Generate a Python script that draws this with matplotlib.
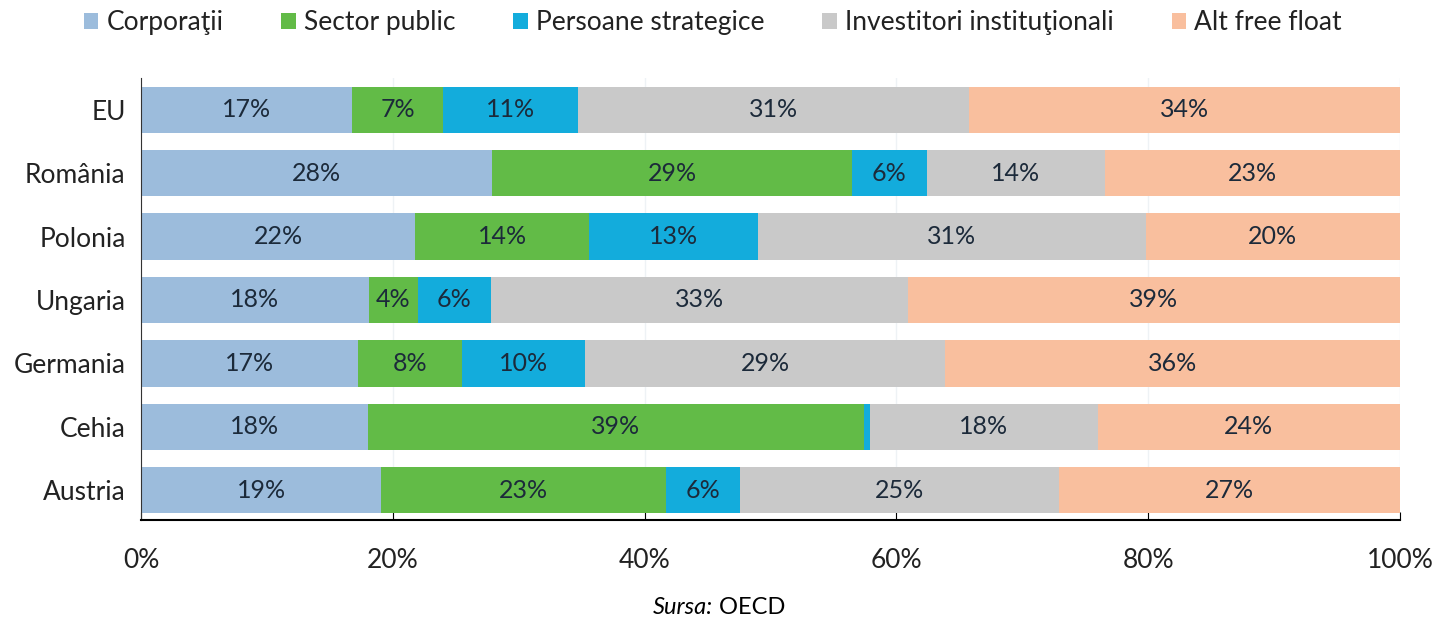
import matplotlib.pyplot as plt
import numpy as np

plt.rcParams['font.family'] = ['Lato', 'DejaVu Sans']

tari = ['EU', 'România', 'Polonia', 'Ungaria', 'Germania', 'Cehia', 'Austria']
corporatii = [16.8, 27.9, 21.8, 18.1, 17.2, 18.0, 19.1]
sector_public = [7.2, 28.6, 13.8, 3.9, 8.3, 39.4, 22.6]
persoane_strategice = [10.7, 5.9, 13.4, 5.8, 9.8, 0.5, 5.9]
investitori = [31.1, 14.2, 30.8, 33.1, 28.6, 18.1, 25.3]
alt_free_float = [34.2, 23.4, 20.2, 39.1, 36.1, 24.0, 27.1]

serii = ['Corporaţii', 'Sector public', 'Persoane strategice',
         'Investitori instituţionali', 'Alt free float']
culori = ['#9cbcdc', '#62bb47', '#13acdc', '#c9c9c9', '#f9bf9e']
valori = [corporatii, sector_public, persoane_strategice, investitori, alt_free_float]

fig = plt.figure(figsize=(14.34, 6.21), dpi=100)
ax = fig.add_axes([0.0983, 0.1626, 0.878, 0.7118])

y = np.arange(len(tari))
left = np.zeros(len(tari))
for nume, culoare, v in zip(serii, culori, valori):
    v = np.array(v)
    ax.barh(y, v, left=left, height=0.73, color=culoare, label=nume, zorder=2)
    for yi, li, vi in zip(y, left, v):
        if vi >= 2:
            ax.text(li + vi / 2, yi, f'{vi:.0f}%', ha='center', va='center',
                    fontsize=18, color='#1c2a3a', zorder=3)
    left += v

ax.set_xlim(0, 100)
ax.set_ylim(6.47, -0.5)
ax.set_yticks(y)
ax.set_yticklabels(tari, fontsize=19, color='#222222')
ax.set_xticks(np.arange(0, 101, 20))
ax.set_xticklabels([f'{t}%' for t in range(0, 101, 20)], fontsize=19, color='#222222')
ax.tick_params(axis='y', length=0, pad=11)
ax.tick_params(axis='x', direction='in', length=6, pad=20, color='black')
ax.xaxis.grid(True, color='#eef2f5', linewidth=1, zorder=0)
ax.set_axisbelow(True)
for s in ['top', 'right']:
    ax.spines[s].set_visible(False)
ax.spines['left'].set_color('#333333')
ax.spines['bottom'].set_color('black')
ax.spines['bottom'].set_linewidth(1.5)

fig.legend(loc='upper center', bbox_to_anchor=(0.497, 1.022), ncol=5, frameon=False,
           fontsize=19, handlelength=0.55, handleheight=0.55, handletextpad=0.3,
           columnspacing=2.2, labelcolor='#222222')

fig.text(0.497, 0.005, 'Sursa:', ha='right', va='bottom', fontsize=17, style='italic')
fig.text(0.497, 0.005, ' OECD', ha='left', va='bottom', fontsize=17)

plt.savefig('out.png', dpi=100)
